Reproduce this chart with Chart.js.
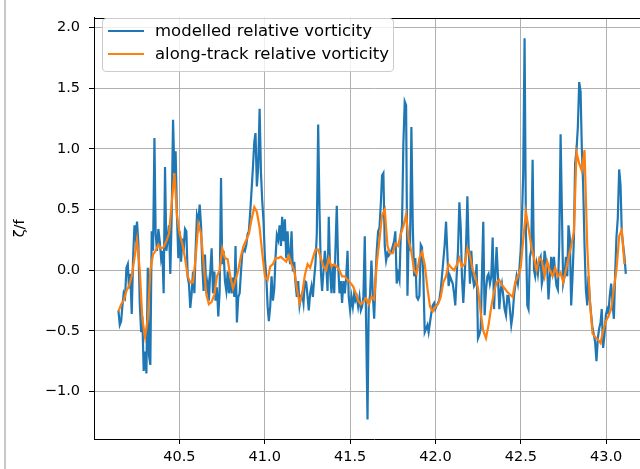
<!DOCTYPE html>
<html>
<head>
<meta charset="utf-8">
<script src="https://cdn.jsdelivr.net/npm/chart.js@4.4.0/dist/chart.umd.min.js"></script>
<style>
  html, body { margin: 0; padding: 0; background: #fff; overflow: hidden; }
  #wrap { position: relative; width: 640px; height: 469px; overflow: hidden; }
  #edge { position: absolute; left: 4px; top: 0; width: 2px; height: 469px; background: #c8c8c8; }
  #chart { position: absolute; left: 0; top: 0; }
  #legend {
    position: absolute; left: 102px; top: 18px; width: 290px; height: 52px;
    border: 1px solid #cccccc; border-radius: 4px; background: rgba(255,255,255,0.8);
    font-family: "DejaVu Sans"; font-size: 16.5px; color: #000;
  }
  .row { position: absolute; left: 0; height: 20px; line-height: 20px; white-space: nowrap; }
  .row i { position: absolute; left: 5px; top: 9px; width: 36px; height: 2px; }
  .row span { position: absolute; left: 52px; top: 0; }
</style>
</head>
<body>
<div id="wrap">
  <canvas id="chart" width="680" height="469"></canvas>
  <div id="edge"></div>
  <div id="legend">
    <div class="row" style="top:2px"><i style="background:#1f77b4"></i><span>modelled relative vorticity</span></div>
    <div class="row" style="top:25px"><i style="background:#ff7f0e"></i><span>along-track relative vorticity</span></div>
  </div>
</div>
<script>
// latitude of each along-track sample
const lat = [
  40.143, 40.151, 40.159, 40.166, 40.174, 40.182, 40.190, 40.198, 40.205, 40.213,
  40.221, 40.229, 40.237, 40.244, 40.252, 40.260, 40.268, 40.276, 40.283, 40.291,
  40.299, 40.307, 40.315, 40.322, 40.330, 40.338, 40.346, 40.354, 40.361, 40.369,
  40.377, 40.385, 40.393, 40.400, 40.408, 40.416, 40.424, 40.432, 40.439, 40.447,
  40.455, 40.463, 40.471, 40.478, 40.486, 40.494, 40.502, 40.510, 40.517, 40.525,
  40.533, 40.541, 40.549, 40.556, 40.564, 40.572, 40.580, 40.588, 40.595, 40.603,
  40.611, 40.619, 40.627, 40.634, 40.642, 40.650, 40.658, 40.666, 40.673, 40.681,
  40.689, 40.697, 40.705, 40.712, 40.720, 40.728, 40.736, 40.744, 40.751, 40.759,
  40.767, 40.775, 40.783, 40.790, 40.798, 40.806, 40.814, 40.822, 40.829, 40.837,
  40.845, 40.853, 40.861, 40.868, 40.876, 40.884, 40.892, 40.900, 40.907, 40.915,
  40.923, 40.931, 40.939, 40.946, 40.954, 40.962, 40.970, 40.978, 40.985, 40.993,
  41.001, 41.009, 41.017, 41.024, 41.032, 41.040, 41.048, 41.056, 41.063, 41.071,
  41.079, 41.087, 41.095, 41.102, 41.110, 41.118, 41.126, 41.134, 41.141, 41.149,
  41.157, 41.165, 41.173, 41.180, 41.188, 41.196, 41.204, 41.212, 41.219, 41.227,
  41.235, 41.243, 41.251, 41.258, 41.266, 41.274, 41.282, 41.290, 41.297, 41.305,
  41.313, 41.321, 41.329, 41.336, 41.344, 41.352, 41.360, 41.368, 41.375, 41.383,
  41.391, 41.399, 41.407, 41.414, 41.422, 41.430, 41.438, 41.446, 41.453, 41.461,
  41.469, 41.477, 41.485, 41.492, 41.500, 41.508, 41.516, 41.524, 41.531, 41.539,
  41.547, 41.555, 41.563, 41.570, 41.578, 41.586, 41.594, 41.602, 41.609, 41.617,
  41.625, 41.633, 41.641, 41.648, 41.656, 41.664, 41.672, 41.680, 41.687, 41.695,
  41.703, 41.711, 41.719, 41.726, 41.734, 41.742, 41.750, 41.758, 41.765, 41.773,
  41.781, 41.789, 41.797, 41.804, 41.812, 41.820, 41.828, 41.836, 41.843, 41.851,
  41.859, 41.867, 41.875, 41.882, 41.890, 41.898, 41.906, 41.914, 41.921, 41.929,
  41.937, 41.945, 41.953, 41.960, 41.968, 41.976, 41.984, 41.992, 41.999, 42.007,
  42.015, 42.023, 42.031, 42.038, 42.046, 42.054, 42.062, 42.070, 42.077, 42.085,
  42.093, 42.101, 42.109, 42.116, 42.124, 42.132, 42.140, 42.148, 42.155, 42.163,
  42.171, 42.179, 42.187, 42.194, 42.202, 42.210, 42.218, 42.226, 42.233, 42.241,
  42.249, 42.257, 42.265, 42.272, 42.280, 42.288, 42.296, 42.304, 42.311, 42.319,
  42.327, 42.335, 42.343, 42.350, 42.358, 42.366, 42.374, 42.382, 42.389, 42.397,
  42.405, 42.413, 42.421, 42.428, 42.436, 42.444, 42.452, 42.460, 42.467, 42.475,
  42.483, 42.491, 42.499, 42.506, 42.514, 42.522, 42.530, 42.538, 42.545, 42.553,
  42.561, 42.569, 42.577, 42.584, 42.592, 42.600, 42.608, 42.616, 42.623, 42.631,
  42.639, 42.647, 42.655, 42.662, 42.670, 42.678, 42.686, 42.694, 42.701, 42.709,
  42.717, 42.725, 42.733, 42.740, 42.748, 42.756, 42.764, 42.772, 42.779, 42.787,
  42.795, 42.803, 42.811, 42.818, 42.826, 42.834, 42.842, 42.850, 42.857, 42.865,
  42.873, 42.881, 42.889, 42.896, 42.904, 42.912, 42.920, 42.928, 42.935, 42.943,
  42.951, 42.959, 42.967, 42.974, 42.982, 42.990, 42.998, 43.006, 43.013, 43.021,
  43.029, 43.037, 43.045, 43.052, 43.060, 43.068, 43.076, 43.084, 43.091, 43.099,
  43.107, 43.115
];

// modelled zeta/f, one value per lat
const modelled = [
  -0.33, -0.45, -0.42, -0.30, -0.19, -0.22, 0.02, 0.05, -0.15, -0.03,
  -0.36, 0.10, 0.37, 0.28, 0.40, 0.22, -0.27, -0.51, -0.38, -0.83,
  -0.67, -0.85, 0.02, -0.70, -0.78, 0.32, 0.16, 1.09, 0.30, 0.16,
  0.34, 0.24, 0.10, 0.16, -0.19, 0.85, 0.16, 0.26, 0.37, -0.03,
  0.45, 1.24, 0.80, 0.98, 0.45, 0.10, 0.32, 0.07, 0.26, 0.16,
  0.34, 0.32, -0.06, -0.11, -0.31, -0.19, -0.01, -0.19, 0.16, 0.45,
  0.40, 0.54, 0.37, 0.05, -0.17, 0.13, -0.19, -0.11, -0.25, -0.01,
  0.18, -0.19, -0.01, -0.25, -0.14, -0.38, -0.17, 0.76, 0.05, 0.16,
  -0.09, -0.17, -0.01, -0.19, -0.06, -0.19, -0.06, -0.22, 0.20, -0.43,
  -0.22, -0.19, -0.01, 0.13, 0.18, 0.16, 0.21, 0.30, 0.32, 0.48,
  0.66, 0.85, 1.06, 1.13, 0.69, 0.85, 1.33, 0.80, 0.58, 0.40,
  0.10, -0.05, -0.30, -0.42, -0.30, -0.05, -0.25, -0.15, 0.10, 0.29,
  0.25, 0.37, 0.20, 0.44, 0.24, 0.42, 0.10, 0.32, 0.13, 0.05,
  0.32, -0.01, 0.07, -0.10, -0.22, -0.09, -0.29, -0.22, -0.19, -0.27,
  -0.09, -0.10, -0.22, -0.33, -0.19, -0.13, -0.22, -0.06, 0.05, 0.30,
  1.20, 0.48, -0.01, -0.17, -0.01, 0.16, 0.05, -0.17, 0.44, -0.01,
  -0.19, 0.05, -0.19, 0.16, 0.53, 0.05, -0.19, -0.09, -0.27, -0.09,
  -0.19, -0.06, 0.16, -0.22, -0.33, -0.22, -0.30, -0.19, -0.25, -0.22,
  -0.30, -0.22, -0.33, -0.30, -0.22, 0.28, -0.45, -1.23, -0.30, -0.20,
  0.08, -0.20, -0.40, -0.10, 0.16, 0.32, 0.35, 0.55, 0.78, 0.80,
  0.20, 0.08, 0.14, 0.12, 0.14, 0.16, 0.20, 0.24, 0.32, -0.11,
  -0.03, -0.08, 0.30, 0.37, 1.04, 1.39, 1.36, -0.21, 0.27, 0.16,
  1.18, 0.37, -0.05, 0.10, -0.22, -0.24, -0.21, 0.21, 0.19, -0.05,
  -0.51, -0.48, -0.45, -0.51, -0.43, -0.35, -0.29, -0.27, -0.32, -0.29,
  -0.27, -0.24, -0.16, -0.05, 0.08, 0.21, 0.40, 0.13, -0.13, -0.05,
  -0.08, -0.11, -0.19, -0.29, -0.05, 0.16, 0.56, 0.35, -0.05, -0.27,
  -0.05, 0.19, 0.61, 0.21, -0.11, 0.16, -0.05, -0.13, -0.11, 0.05,
  -0.56, -0.53, -0.48, -0.05, 0.40, -0.37, -0.16, -0.05, -0.03, -0.11,
  -0.05, 0.27, -0.32, -0.05, 0.19, -0.05, -0.32, -0.16, -0.11, -0.21,
  -0.32, -0.37, -0.21, -0.21, -0.32, -0.45, -0.37, -0.21, -0.13, -0.05,
  -0.11, 0.00, 0.16, 0.40, 0.80, 1.91, 0.30, -0.29, -0.32, 0.11,
  0.16, 0.91, 0.00, -0.05, 0.05, -0.03, 0.08, 0.11, -0.11, -0.05,
  0.16, 0.08, 0.00, -0.24, -0.05, 0.11, 0.00, 0.11, -0.03, -0.13,
  -0.16, 0.21, 1.12, 0.53, -0.11, -0.05, 0.11, -0.05, 0.37, 0.27,
  -0.29, -0.05, 0.27, 0.88, 0.99, 1.18, 1.55, 1.47, 1.02, 0.70,
  0.21, -0.16, -0.29, -0.05, -0.24, -0.37, -0.48, -0.53, -0.59, -0.75,
  -0.56, -0.48, -0.43, -0.32, -0.64, -0.53, -0.37, -0.32, -0.35, -0.21,
  -0.11, -0.27, -0.40, -0.05, 0.27, 0.43, 0.83, 0.70, 0.32, 0.21,
  0.11, -0.03
];

// along-track zeta/f, sampled at every second lat
const alongTrack = [
  -0.34, -0.28, -0.25, -0.17, -0.13, -0.05, 0.10, 0.25, 0.00, -0.40,
  -0.55, -0.40, 0.00, 0.13, 0.16, 0.21, 0.18, 0.19, 0.24, 0.30,
  0.55, 0.80, 0.45, 0.30, 0.22, 0.10, -0.05, -0.10, -0.10, 0.10,
  0.38, 0.30, 0.05, -0.20, -0.28, -0.26, -0.20, -0.05, 0.00, 0.18,
  0.10, 0.09, -0.05, -0.15, -0.08, 0.00, 0.12, 0.20, 0.25, 0.30,
  0.42, 0.52, 0.48, 0.35, 0.15, -0.05, -0.08, 0.03, 0.05, 0.10,
  0.10, 0.11, 0.09, 0.07, 0.12, 0.05, 0.00, -0.15, -0.27, -0.20,
  -0.04, 0.05, 0.02, 0.10, 0.17, 0.17, 0.10, 0.03, 0.00, 0.10,
  0.03, 0.05, 0.03, 0.00, -0.05, -0.05, -0.08, -0.10, -0.13, -0.18,
  -0.25, -0.28, -0.26, -0.23, -0.28, -0.22, -0.24, 0.05, 0.25, 0.45,
  0.50, 0.20, 0.14, 0.14, 0.22, 0.20, 0.30, 0.36, 0.46, 0.25,
  0.15, 0.00, -0.03, 0.10, 0.15, 0.05, -0.15, -0.30, -0.34, -0.30,
  -0.28, -0.22, -0.10, -0.05, 0.05, 0.02, 0.00, 0.04, 0.10, 0.03,
  0.05, 0.18, 0.12, 0.00, -0.05, -0.15, -0.35, -0.50, -0.56, -0.45,
  -0.30, -0.18, -0.10, -0.08, -0.12, -0.15, -0.18, -0.20, -0.22, -0.10,
  -0.05, 0.02, 0.25, 0.48, 0.35, 0.20, 0.10, 0.00, 0.10, 0.08,
  -0.05, 0.07, 0.00, -0.05, 0.02, -0.05, -0.02, -0.10, 0.00, 0.10,
  0.20, 0.32, 0.97, 0.88, 0.82, 0.99, 0.20, -0.25, -0.52, -0.55,
  -0.57, -0.60, -0.50, -0.42, -0.38, -0.32, -0.15, 0.00, 0.28, 0.33,
  0.05
];

const xTicks = [40.5, 41.0, 41.5, 42.0, 42.5, 43.0];
const yTicks = [-1.0, -0.5, 0.0, 0.5, 1.0, 1.5, 2.0];

const alongLat = lat.filter((_, i) => i % 2 === 0);

const fmt = v => Number(v).toFixed(1).replace('-', '\u2212');
const font = { family: 'DejaVu Sans', size: 14.5 };

// matplotlib-like top spine
const frame = {
  id: 'frame',
  afterDraw(chart) {
    const { ctx, chartArea } = chart;
    ctx.save();
    ctx.strokeStyle = '#000';
    ctx.lineWidth = 1;
    ctx.beginPath();
    ctx.moveTo(chartArea.left, Math.round(chartArea.top) + 0.5);
    ctx.lineTo(chartArea.right, Math.round(chartArea.top) + 0.5);
    ctx.stroke();
    ctx.restore();
  }
};

new Chart(document.getElementById('chart'), {
  type: 'line',
  data: {
    datasets: [{
      label: 'modelled relative vorticity',
      data: lat.map((x, i) => ({ x: x, y: modelled[i] })),
      borderColor: '#1f77b4',
      borderWidth: 2.2,
      pointRadius: 0,
      tension: 0,
      order: 1
    }, {
      label: 'along-track relative vorticity',
      data: alongLat.map((x, i) => ({ x: x, y: alongTrack[i] })),
      borderColor: '#ff7f0e',
      borderWidth: 2.2,
      pointRadius: 0,
      tension: 0,
      order: 0
    }]
  },
  options: {
    responsive: false,
    animation: false,
    devicePixelRatio: 1,
    layout: { padding: { top: 9, right: 26, bottom: 0, left: 0 } },
    plugins: { legend: { display: false }, tooltip: { enabled: false } },
    scales: {
      x: {
        type: 'linear',
        min: 40.0,
        max: 43.28,
        afterBuildTicks: s => { s.ticks = xTicks.map(v => ({ value: v })); },
        afterFit: s => { s.height = 30; },
        ticks: { callback: fmt, color: '#000', font: font, padding: 5, maxRotation: 0 },
        grid: { color: '#b0b0b0', lineWidth: 1, tickColor: '#000', tickLength: 5 },
        border: { color: '#000', width: 1 }
      },
      y: {
        min: -1.39,
        max: 2.08,
        afterBuildTicks: s => { s.ticks = yTicks.map(v => ({ value: v })); },
        afterFit: s => { s.width = 94; },
        ticks: { callback: fmt, color: '#000', font: font, padding: 9 },
        grid: { color: '#b0b0b0', lineWidth: 1, tickColor: '#000', tickLength: 5 },
        border: { color: '#000', width: 1 },
        title: { display: true, text: 'ζ/f', color: '#000', font: font, padding: { top: 12, bottom: 0 } }
      }
    }
  },
  plugins: [frame]
});
</script>
</body>
</html>
